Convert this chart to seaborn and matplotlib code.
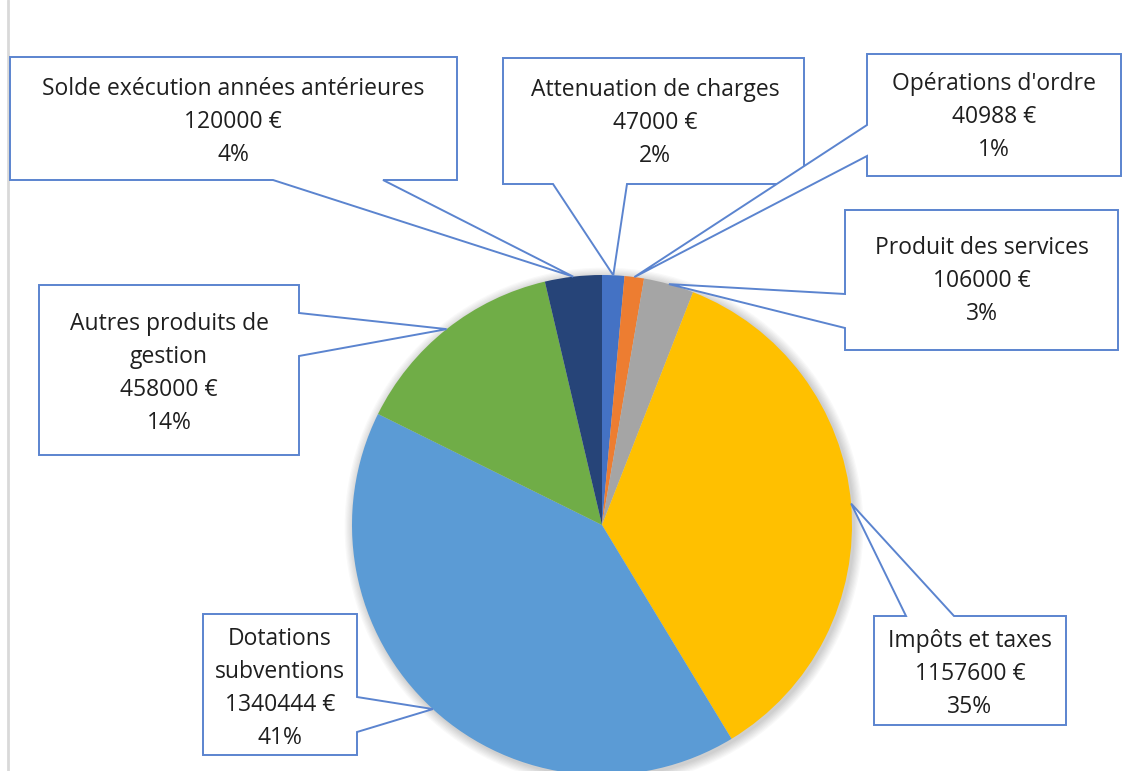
import numpy as np
import seaborn as sns
import matplotlib.pyplot as plt
from matplotlib.patches import Polygon, Circle

# data, in drawing order (clockwise from 12 o'clock)
names = ["Attenuation de charges", "Opérations d'ordre", "Produit des services",
         "Impôts et taxes", "Dotations\nsubventions", "Autres produits de\ngestion",
         "Solde exécution années antérieures"]
values = [47000, 40988, 106000, 1157600, 1340444, 458000, 120000]
pct_labels = ["2%", "1%", "3%", "35%", "41%", "14%", "4%"]
colors = ["#4472C4", "#ED7D31", "#A5A5A5", "#FFC000", "#5B9BD5", "#70AD47", "#264478"]

# callout layout in pixels: box (x0, y0, x1, y1), side the pointer leaves from, gap on that side,
# text centre x and first line y
boxes = [
    ((503, 58, 804, 184), "bottom", (553, 627), 655, 90),
    ((867, 54, 1121, 176), "left", (125, 156), 994, 84),
    ((845, 210, 1118, 350), "left", (294, 328), 982, 248),
    ((874, 616, 1066, 725), "top", (906, 954), 970, 641),
    ((203, 614, 357, 755), "right", (697, 732), 280, 639),
    ((39, 285, 299, 455), "right", (313, 356), 169, 324),
    ((10, 57, 457, 180), "bottom", (273, 383), 233, 89),
]

sns.set_theme(style="white")
plt.rcParams["font.family"] = ["Open Sans", "DejaVu Sans"]

W, H = 1139, 771
fig = plt.figure(figsize=(W / 100, H / 100), dpi=100)
ax = fig.add_axes([0, 0, 1, 1])

cx, cy, r = 602, 525, 250

# soft shadow around the pie
for k in range(8):
    ax.add_patch(Circle((cx + 2, cy + 2), r + 1 + k * 1.2, color="#000000", alpha=0.025, lw=0, zorder=1))

ax.pie(values, colors=colors, startangle=-90, counterclock=True, center=(cx, cy), radius=r,
       wedgeprops=dict(linewidth=0, zorder=2))

ax.set_xlim(0, W)
ax.set_ylim(H, 0)
ax.set_aspect("equal")
ax.axis("off")

# left page rule
ax.plot([8, 8], [0, H], color="#d9d9d9", lw=2, zorder=0)

frac = np.cumsum(values) / np.sum(values)
mids = frac - np.array(values) / np.sum(values) / 2
edge = "#5b84cf"

for i, (box, side, gap, tx, ty) in enumerate(boxes):
    x0, y0, x1, y1 = box
    ang = 2 * np.pi * mids[i]
    tip = (cx + r * np.sin(ang), cy - r * np.cos(ang))
    g0, g1 = gap
    if side == "bottom":
        pts = [(x0, y0), (x1, y0), (x1, y1), (g1, y1), tip, (g0, y1), (x0, y1)]
    elif side == "top":
        pts = [(x0, y0), (g0, y0), tip, (g1, y0), (x1, y0), (x1, y1), (x0, y1)]
    elif side == "left":
        pts = [(x0, y0), (x1, y0), (x1, y1), (x0, y1), (x0, g1), tip, (x0, g0)]
    else:
        pts = [(x0, y0), (x1, y0), (x1, g0), tip, (x1, g1), (x1, y1), (x0, y1)]
    ax.add_patch(Polygon(pts, closed=True, facecolor="white", edgecolor=edge, lw=1.4, zorder=3))
    lines = names[i].split("\n") + [f"{values[i]} €", pct_labels[i]]
    for j, line in enumerate(lines):
        ax.text(tx, ty + 33 * j, line, ha="center", va="center", fontsize=16.5,
                fontweight="medium", color="#1f1f1f", zorder=4)

fig.savefig("out.png", dpi=100, facecolor="white")
